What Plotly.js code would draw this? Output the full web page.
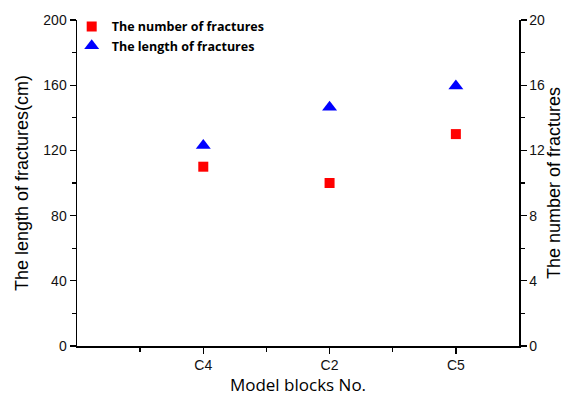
<!DOCTYPE html>
<html>
<head>
<meta charset="utf-8">
<script src="https://cdn.plot.ly/plotly-3.0.1.min.js"></script>
<style>html,body{margin:0;padding:0;background:#fff;}#chart{width:564px;height:396px;}</style>
</head>
<body>
<div id="chart"></div>
<script>
const categories = ["C4", "C2", "C5"];
const numberOfFractures = [11, 10, 13];
const lengthOfFractures = [123, 146.5, 159.5];
const leftTicks = [0, 40, 80, 120, 160, 200];
const rightTicks = [0, 4, 8, 12, 16, 20];

const xpos = categories.map((c, i) => i);

const traces = [
  {
    x: xpos, y: numberOfFractures, yaxis: "y2", type: "scatter", mode: "markers",
    name: "The number of fractures",
    marker: {symbol: "square", size: 10, color: "#ff0000"}
  },
  {
    x: xpos, y: lengthOfFractures, type: "scatter", mode: "markers",
    name: "The length of fractures",
    marker: {symbol: "triangle-up", size: 13, color: "#0000ff"}
  }
];

const tickFont = {family: "Liberation Sans", size: 14, color: "#111"};

const layout = {
  width: 564, height: 396,
  margin: {l: 77, r: 45, t: 20, b: 50},
  paper_bgcolor: "#fff", plot_bgcolor: "#fff",
  font: {family: "Liberation Sans"},
  showlegend: true,
  legend: {
    x: -0.012, y: 1.025, xanchor: "left", yanchor: "top",
    bgcolor: "rgba(0,0,0,0)",
    font: {family: "Open Sans", size: 12.5, color: "#000", weight: "bold"},
    tracegroupgap: 0, itemwidth: 30
  },
  xaxis: {
    range: [-1, 2.5], tickvals: xpos, ticktext: categories,
    showgrid: false, zeroline: false, showline: true, linecolor: "#000", linewidth: 1.5,
    ticks: "outside", ticklen: 6, tickwidth: 1.3, tickcolor: "#000",
    minor: {tickvals: [-0.5, 0.5, 1.5], ticks: "outside", ticklen: 4, tickwidth: 1.3, tickcolor: "#000", showgrid: false},
    tickfont: tickFont,
    title: {text: "Model blocks No.", font: {family: "Open Sans", size: 17, color: "#000"}, standoff: 8}
  },
  yaxis: {
    range: [0, 200], tickvals: leftTicks,
    showgrid: false, zeroline: false, showline: true, linecolor: "#000", linewidth: 1.5,
    ticks: "outside", ticklen: 6, tickwidth: 1.3, tickcolor: "#000",
    minor: {dtick: 20, ticks: "outside", ticklen: 4, tickwidth: 1.3, tickcolor: "#000", showgrid: false},
    tickfont: tickFont,
    title: {text: "The length of fractures(cm)", font: {family: "Liberation Sans", size: 18, color: "#000"}, standoff: 10}
  },
  yaxis2: {
    range: [0, 20], tickvals: rightTicks, overlaying: "y", side: "right",
    showgrid: false, zeroline: false, showline: true, linecolor: "#000", linewidth: 1.5,
    ticks: "outside", ticklen: 6, tickwidth: 1.3, tickcolor: "#000",
    minor: {dtick: 2, ticks: "outside", ticklen: 4, tickwidth: 1.3, tickcolor: "#000", showgrid: false},
    tickfont: tickFont,
    title: {text: "The number of fractures", font: {family: "Liberation Sans", size: 18, color: "#000"}, standoff: 6}
  }
};

Plotly.newPlot("chart", traces, layout, {displayModeBar: false, staticPlot: true});
</script>
</body>
</html>
